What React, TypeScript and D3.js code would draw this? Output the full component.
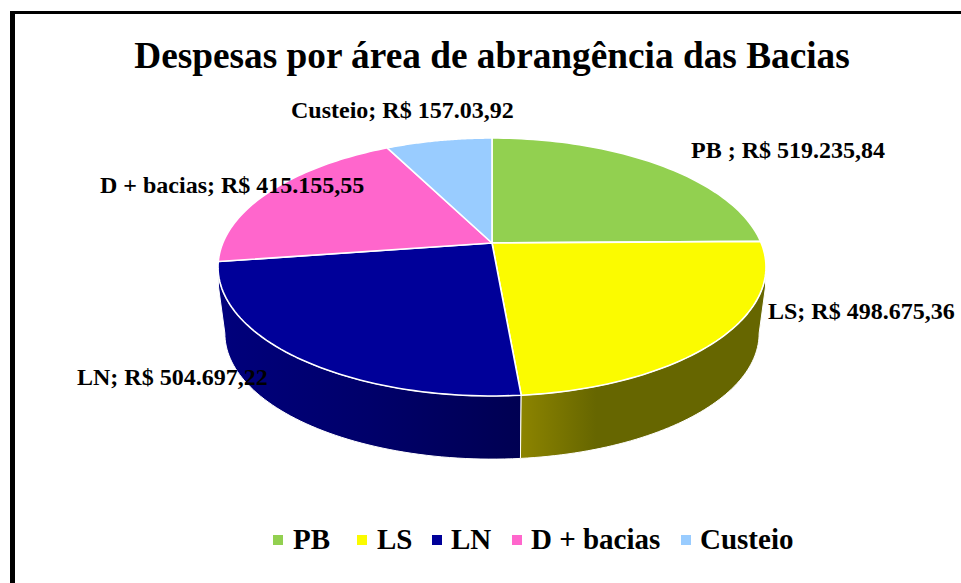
import React from "react";
import * as d3 from "d3";

const categories = ["PB", "LS", "LN", "D + bacias", "Custeio"];
const values = [519235.84, 498675.36, 504697.22, 415155.55, 157030.92];
const valueLabels = ["R$ 519.235,84", "R$ 498.675,36", "R$ 504.697,22", "R$ 415.155,55", "R$ 157.03,92"];
const labelPrefixes = ["PB ; ", "LS; ", "LN; ", "D + bacias; ", "Custeio; "];
const colors = ["#92D050", "#FBFB00", "#000099", "#FF66CC", "#99CCFF"];
const title = "Despesas por área de abrangência das Bacias";

const W = 961, H = 583;
const CX = 492, CY = 243;
const A = 269.2, B = 124.5, K = 0.186;
const labelPos: [number, number][] = [[691, 158], [768, 319], [77, 385], [100, 193], [291, 118]];
const legendMarkX = [273, 357, 432, 512, 681];
const legendTextX = [293, 377, 451, 531, 700];
const DEPTH = 67, BOTTOM_SCALE = 0.975;

// perspective projection of a unit circle, angle clockwise from the top
function project(a: number, bottom = false): [number, number] {
  const X = Math.sin(a), Y = -Math.cos(a);
  const w = 1 - K * Y;
  const s = bottom ? BOTTOM_SCALE : 1;
  return [CX + (s * A * X) / w, CY + (bottom ? DEPTH : 0) + (s * B * Y) / w];
}
const sample = (a0: number, a1: number, bottom = false) =>
  d3.range(0, 61).map((i) => project(a0 + ((a1 - a0) * i) / 60, bottom));
const line = d3.line();

export default function App() {
  const arcs = d3.pie<number>().sort(null).startAngle(0).endAngle(2 * Math.PI)(values);
  const silR = Math.PI / 2 + Math.asin(K);
  const silL = 2 * Math.PI - silR;
  const lsEnd = arcs[1].endAngle;
  const rimR = project(silR), rimL = project(silL);
  const rightPts = [[rimR[0], rimR[1] - 5], ...sample(silR - 0.01, lsEnd), ...sample(silR, lsEnd, true).reverse(), [rimR[0] - 0.5, rimR[1] + 20]];
  const leftPts = [...sample(lsEnd, silL), [rimL[0] + 0.5, rimL[1] + 20], ...sample(lsEnd, silL, true).reverse()];
  const xJoin = project(lsEnd)[0];
  return (
    <svg width={W} height={H} style={{ position: "absolute", left: 0, top: 0, background: "#fff" }}
      fontFamily="'Liberation Serif', serif" fontWeight="bold">
      <defs>
        <linearGradient id="wallLS" gradientUnits="userSpaceOnUse" x1={xJoin} x2={xJoin + 75} y1={0} y2={0}>
          <stop offset="0" stopColor="#8C8400" />
          <stop offset="1" stopColor="#666600" />
        </linearGradient>
        <linearGradient id="wallLN" gradientUnits="userSpaceOnUse" x1={218} x2={xJoin} y1={0} y2={0}>
          <stop offset="0" stopColor="#00007C" />
          <stop offset="0.5" stopColor="#00006A" />
          <stop offset="1" stopColor="#000052" />
        </linearGradient>
      </defs>
      <rect x={10} y={11} width={5} height={H - 11} fill="#000" />
      <rect x={10} y={11} width={W - 10} height={3} fill="#000" />
      <text x={492} y={68} textAnchor="middle" fontSize={37.3} fill="#000">{title}</text>

      <path d={line(leftPts as [number, number][])! + "Z"} fill="url(#wallLN)" stroke="#fff" strokeWidth={1} />
      <path d={line(rightPts as [number, number][])! + "Z"} fill="url(#wallLS)" stroke="#fff" strokeWidth={1} />

      {arcs.map((d, i) => (
        <path key={categories[i]}
          d={line([[CX, CY], ...sample(d.startAngle, d.endAngle)] as [number, number][])! + "Z"}
          fill={colors[i]} stroke="#fff" strokeWidth={1.6} strokeLinejoin="round" />
      ))}

      {categories.map((c, i) => (
        <text key={c} x={labelPos[i][0]} y={labelPos[i][1]} fontSize={24} fill="#000">
          {labelPrefixes[i] + valueLabels[i]}
        </text>
      ))}

      {categories.map((c, i) => (
        <g key={c}>
          <rect x={legendMarkX[i]} y={535} width={10} height={10} fill={colors[i]} />
          <text x={legendTextX[i]} y={549} fontSize={29} fill="#000">{c}</text>
        </g>
      ))}
    </svg>
  );
}
